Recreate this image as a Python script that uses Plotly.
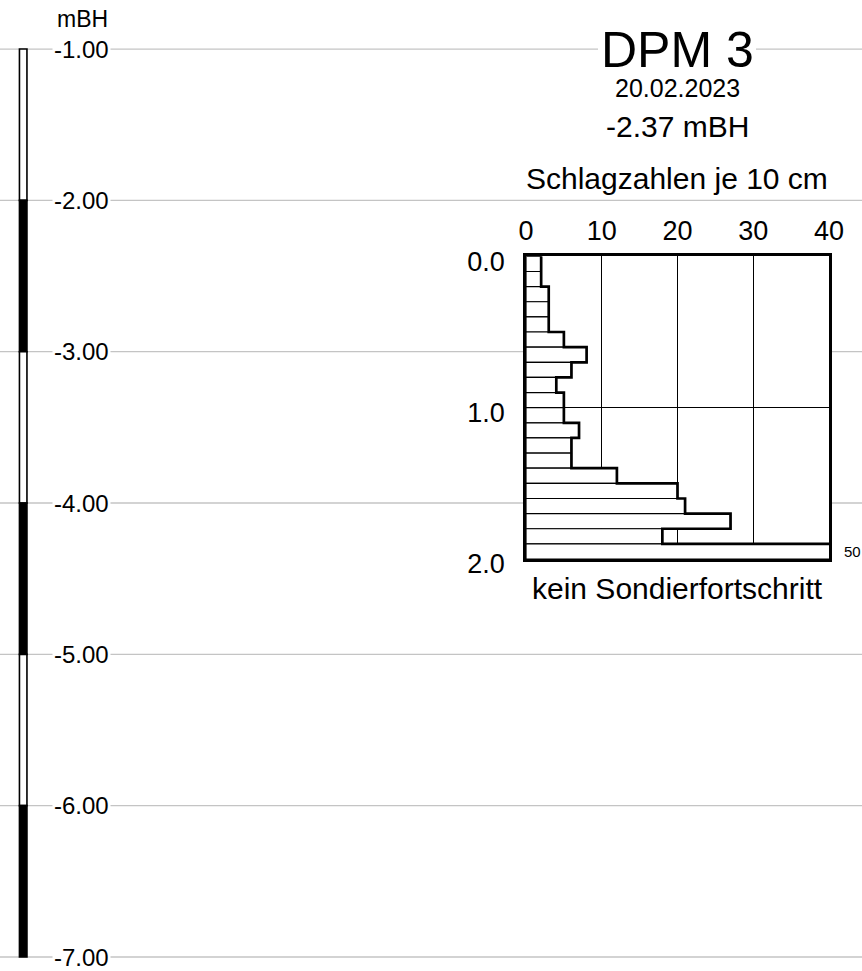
import plotly.graph_objects as go

# --- data -------------------------------------------------------------
probe_name = "DPM 3"
probe_date = "20.02.2023"
start_elev = -2.37            # ground level at the probe, mBH
elev_unit = "mBH"

# elevation scale (mBH)
elev_ticks = [-1.0, -2.0, -3.0, -4.0, -5.0, -6.0, -7.0]

# penetration record: top of each 10 cm layer (m below start) and blows
depth_top = [0.0, 0.1, 0.2, 0.3, 0.4, 0.5, 0.6, 0.7, 0.8, 0.9,
             1.0, 1.1, 1.2, 1.3, 1.4, 1.5, 1.6, 1.7, 1.8, 1.9]
blows = [2, 2, 3, 3, 3, 5, 8, 6, 4, 5,
         5, 7, 6, 6, 12, 20, 21, 27, 18, 50]
layer = 0.1
x_ticks = [0, 10, 20, 30, 40]
depth_ticks = [0.0, 1.0, 2.0]
x_title = "Schlagzahlen je 10 cm"
end_note = "kein Sondierfortschritt"

# --- layout constants --------------------------------------------------
W, H = 862, 971
FONT = "Liberation Sans, Arial, sans-serif"
ELEV_RANGE = [-7.0925, -0.676]
span = ELEV_RANGE[1] - ELEV_RANGE[0]
XMAX = 40
depth_max = depth_top[-1] + layer


def frac(e):
    return (e - ELEV_RANGE[0]) / span


probe_domain_y = [frac(start_elev - depth_max), frac(start_elev)]
probe_domain_x = [526 / W, 829 / W]

fig = go.Figure()

# column of alternating metre blocks on the left
for i in range(len(elev_ticks) - 1):
    fig.add_trace(go.Bar(
        x=[23.2], y=[elev_ticks[i + 1] - elev_ticks[i]], base=[elev_ticks[i]],
        width=7.5, marker=dict(color="white" if i % 2 == 0 else "black",
                               line=dict(color="black", width=1.6)),
        xaxis="x", yaxis="y", showlegend=False, hoverinfo="skip"))

# white blow-count bars with thin outlines
fig.add_trace(go.Bar(
    x=blows, y=[d + layer / 2 for d in depth_top], orientation="h",
    width=layer, marker=dict(color="white", line=dict(color="black", width=1.2)),
    xaxis="x2", yaxis="y2", showlegend=False, hoverinfo="skip"))

# thick stepped outline of the profile
sx, sy = [], []
for d, b in zip(depth_top, blows):
    sx += [b, b]
    sy += [d, d + layer]
fig.add_trace(go.Scatter(
    x=sx, y=sy, mode="lines", line=dict(color="black", width=2.7),
    xaxis="x2", yaxis="y2", showlegend=False, hoverinfo="skip"))

shapes = []
for e in elev_ticks:
    shapes.append(dict(type="line", xref="paper", yref="y", x0=0, x1=1,
                       y0=e, y1=e, line=dict(color="#c4c4c4", width=1.3),
                       layer="below"))
# white gap in the top line behind the probe name
shapes.append(dict(type="rect", xref="paper", yref="paper",
                   x0=598 / W, x1=756 / W, y0=1 - 60 / H, y1=1 - 40 / H,
                   fillcolor="white", line=dict(width=0), layer="below"))
# white face of the probe diagram
shapes.append(dict(type="rect", xref="x2", yref="y2", x0=0, x1=XMAX,
                   y0=0, y1=depth_max, fillcolor="white",
                   line=dict(width=0), layer="below"))

ann = []
for e in elev_ticks:
    ann.append(dict(x=81, y=e, xref="x", yref="y", text=f"{e:.2f}",
                    xanchor="center", yanchor="middle",
                    showarrow=False, bgcolor="white", borderpad=1,
                    font=dict(size=24, color="black", family=FONT)))
ann.append(dict(x=82, y=1 - 19 / H, xref="x", yref="paper", text=elev_unit,
                xanchor="center", yanchor="middle",
                showarrow=False, font=dict(size=23, color="black", family=FONT)))


def top_text(text, y_px, size):
    return dict(x=677 / W, y=1 - y_px / H, xref="paper", yref="paper", text=text,
                xanchor="center", yanchor="middle",
                showarrow=False, font=dict(size=size, color="black", family=FONT))


ann.append(top_text(probe_name, 50, 50))
ann.append(top_text(probe_date, 88, 25))
ann.append(top_text(f"{start_elev:.2f} {elev_unit}", 126, 30))
ann.append(top_text(x_title, 178, 30))
ann.append(dict(x=XMAX / 2, y=depth_max, xref="x2", yref="y2", text=end_note,
                xanchor="center", yanchor="top", yshift=-11, showarrow=False,
                font=dict(size=30, color="black", family=FONT)))
# value of the last layer, which runs off the scale
ann.append(dict(x=XMAX, y=depth_top[-1] + layer / 2, xref="x2", yref="y2",
                text=str(blows[-1]), xanchor="left", yanchor="middle",
                xshift=13, showarrow=False,
                font=dict(size=15, color="black", family=FONT)))

fig.update_layout(
    width=W, height=H, autosize=False,
    margin=dict(l=0, r=0, t=0, b=0, pad=0, autoexpand=False),
    paper_bgcolor="white", plot_bgcolor="rgba(0,0,0,0)",
    barmode="overlay", showlegend=False,
    font=dict(family=FONT, color="black"),
    xaxis=dict(domain=[0, 1], range=[0, W], visible=False, fixedrange=True),
    yaxis=dict(domain=[0, 1], range=ELEV_RANGE, visible=False, fixedrange=True),
    xaxis2=dict(domain=probe_domain_x, anchor="y2", side="top", range=[0, XMAX],
                tickvals=x_ticks, ticks="", showgrid=True, gridcolor="black",
                gridwidth=1.3, zeroline=False, showline=True, mirror=True,
                linecolor="black", linewidth=2.7, ticklabelstandoff=3,
                automargin=False,
                tickfont=dict(size=27, family=FONT, color="black")),
    yaxis2=dict(domain=probe_domain_y, anchor="x2", range=[depth_max, 0],
                tickvals=depth_ticks, tickformat=".1f", ticks="",
                showgrid=True, gridcolor="black", gridwidth=1.3, zeroline=False,
                showline=True, mirror=True, linecolor="black", linewidth=2.7,
                ticklabelstandoff=13, ticklabelshift=-5, automargin=False,
                tickfont=dict(size=27, family=FONT, color="black")),
    shapes=shapes, annotations=ann,
)

fig.write_html("out.html")
